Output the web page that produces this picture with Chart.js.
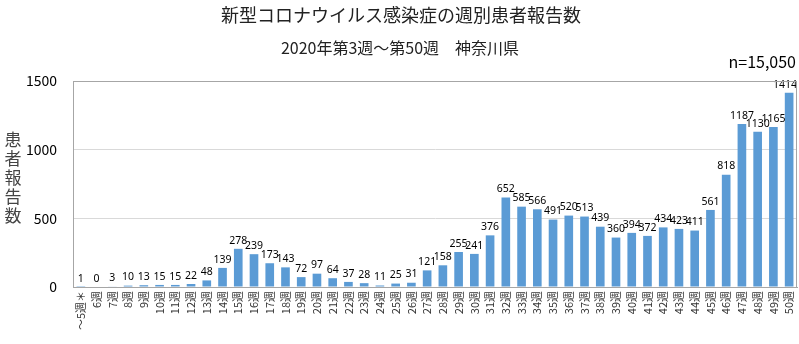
<!DOCTYPE html>
<html><head><meta charset="utf-8">
<script src="https://cdn.jsdelivr.net/npm/chart.js@4/dist/chart.umd.min.js"></script>
<style>html,body{margin:0;padding:0;background:#fff}#wrap{width:799px;height:344px}</style>
</head><body><div id="wrap"><canvas id="c" width="799" height="344"></canvas></div>
<script>
const weekLabels = ["～5週＊","6週","7週","8週","9週","10週","11週","12週","13週","14週","15週","16週","17週","18週","19週","20週","21週","22週","23週","24週","25週","26週","27週","28週","29週","30週","31週","32週","33週","34週","35週","36週","37週","38週","39週","40週","41週","42週","43週","44週","45週","46週","47週","48週","49週","50週"];
const patientCounts = [1,0,3,10,13,15,15,22,48,139,278,239,173,143,72,97,64,37,28,11,25,31,121,158,255,241,376,652,585,566,491,520,513,439,360,394,372,434,423,411,561,818,1187,1130,1165,1414];
const yTicks = [0,500,1000,1500];
const titleLines = ["新型コロナウイルス感染症の週別患者報告数","2020年第3週～第50週　神奈川県"];
const totalLabel = "n=15,050";
const yTitle = "患者報告数";

const JP = '"Noto Sans CJK JP", "Noto Sans", sans-serif';

const overlay = {
  id: 'overlay',
  afterDatasetsDraw(chart) {
    const ctx = chart.ctx;
    const meta = chart.getDatasetMeta(0);
    ctx.save();
    ctx.fillStyle = '#000';
    ctx.font = '10.5px "Noto Sans", sans-serif';
    ctx.textAlign = 'center';
    ctx.textBaseline = 'bottom';
    meta.data.forEach((bar, i) => {
      const txt = String(patientCounts[i]);
      const w = ctx.measureText(txt).width;
      const x = Math.min(bar.x, chart.width - 2 - w / 2);
      ctx.fillText(txt, x, bar.y - 3);
    });
    ctx.restore();
  },
  afterDraw(chart) {
    const ctx = chart.ctx;
    const area = chart.chartArea;
    ctx.save();
    ctx.fillStyle = '#222';
    ctx.textAlign = 'center';
    ctx.textBaseline = 'middle';
    ctx.font = '18px ' + JP;
    ctx.fillText(titleLines[0], 401, 15);
    ctx.font = '16px ' + JP;
    ctx.fillText(titleLines[1], 400, 48);
    ctx.font = '16px ' + JP;
    ctx.textAlign = 'right';
    ctx.fillStyle = '#000';
    ctx.fillText(totalLabel, 796, 62);
    ctx.font = '17px ' + JP;
    ctx.textAlign = 'center';
    ctx.fillStyle = '#444';
    const chars = Array.from(yTitle);
    chars.forEach((ch, i) => ctx.fillText(ch, 13, 140 + i * 19));
    ctx.strokeStyle = '#a6a6a6';
    ctx.lineWidth = 1;
    ctx.strokeRect(Math.round(area.left) + 0.5, Math.round(area.top) + 0.5, Math.round(area.right - area.left) - 1, Math.round(area.bottom - area.top));
    ctx.restore();
  }
};

new Chart(document.getElementById('c'), {
  type: 'bar',
  data: {
    labels: weekLabels,
    datasets: [{
      data: patientCounts,
      backgroundColor: '#5B9BD5',
      borderWidth: 0,
      barPercentage: 0.55,
      categoryPercentage: 1.0
    }]
  },
  options: {
    responsive: false,
    animation: false,
    devicePixelRatio: 1,
    layout: { padding: { top: 81, right: 2, left: 0, bottom: 0 } },
    plugins: { legend: { display: false }, tooltip: { enabled: false } },
    scales: {
      x: {
        grid: { display: false, drawTicks: false },
        border: { color: '#a6a6a6' },
        ticks: {
          autoSkip: false, maxRotation: 90, minRotation: 90, padding: 4,
          color: '#333', font: { size: 11, family: JP }
        },
        afterFit(scale) { scale.height = 57; scale.paddingLeft = 0; scale.paddingRight = 0; }
      },
      y: {
        min: 0, max: 1500,
        grid: { color: '#d9d9d9', drawTicks: false },
        border: { color: '#a6a6a6' },
        ticks: {
          stepSize: 500, padding: 16, color: '#000',
          font: { size: 14, family: JP },
          callback: v => String(v)
        },
        afterBuildTicks(scale) { scale.ticks = yTicks.map(v => ({ value: v })); },
        afterFit(scale) { scale.width = 73; }
      }
    }
  },
  plugins: [overlay]
});
</script>
</body></html>
